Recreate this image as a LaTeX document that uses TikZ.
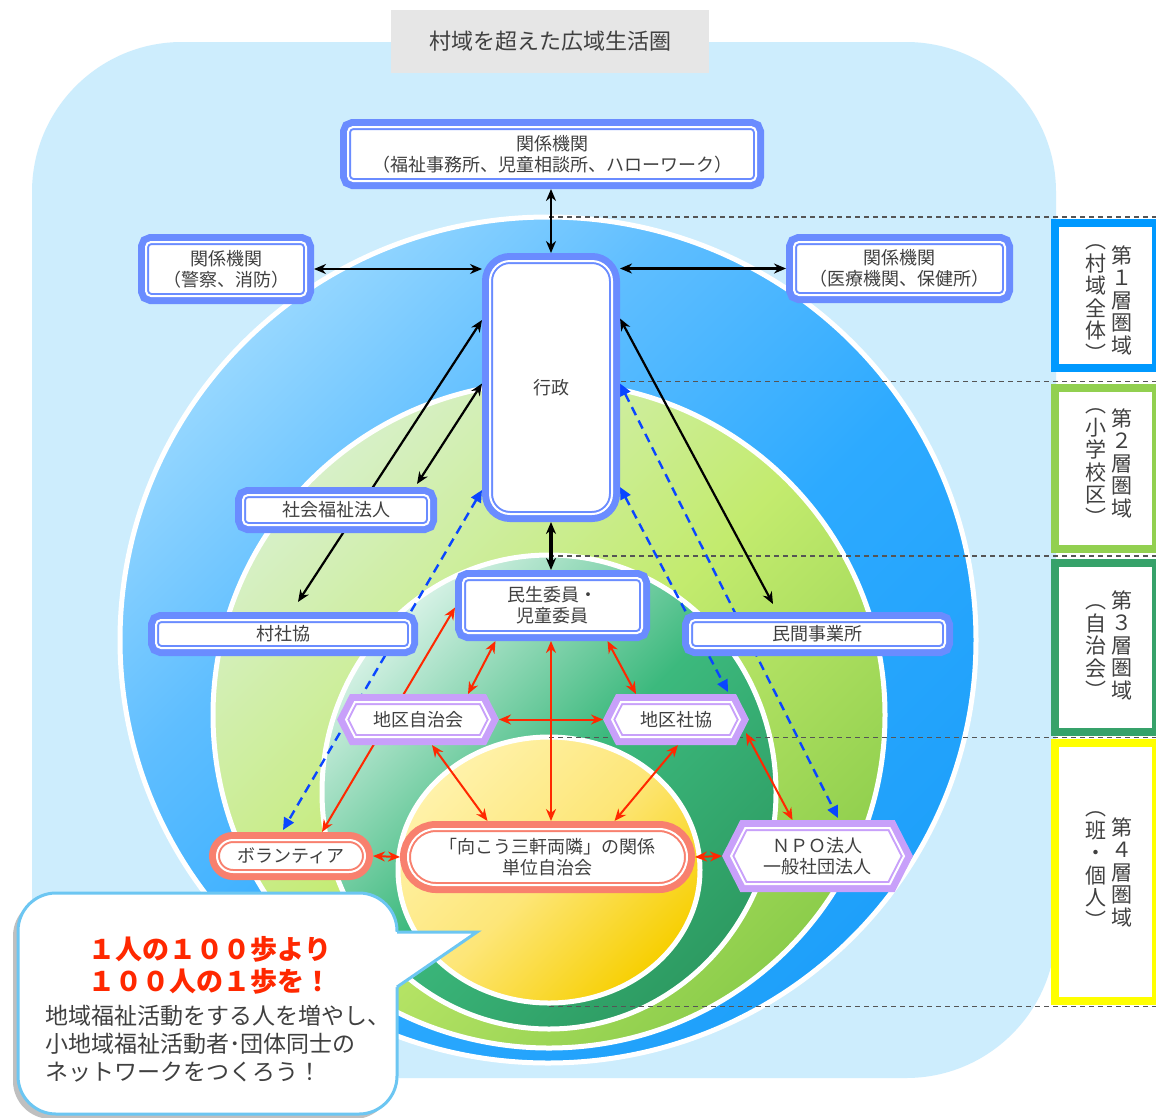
\documentclass[tikz,border=0pt]{standalone}
\usepackage{fontspec}
\setmainfont{Noto Sans CJK JP}
\usetikzlibrary{arrows.meta,shapes.misc,shapes.symbols,shadows,calc}
\pgfdeclarelayer{bg}
\pgfdeclarelayer{conn}
\pgfsetlayers{bg,conn,main}
\definecolor{skybg}{RGB}{205,237,253}
\definecolor{nodeblue}{RGB}{106,140,255}
\definecolor{salmon}{RGB}{248,128,110}
\definecolor{lav}{RGB}{200,160,250}
\definecolor{txt}{RGB}{64,64,64}
\definecolor{redarr}{RGB}{255,40,0}
\definecolor{bluearr}{RGB}{10,70,255}
\definecolor{lA}{RGB}{0,153,255}
\definecolor{lB}{RGB}{146,208,80}
\definecolor{lC}{RGB}{54,162,106}
\definecolor{lD}{RGB}{255,255,0}
\definecolor{bA}{RGB}{150,215,255}
\definecolor{bB}{RGB}{45,170,255}
\definecolor{bC}{RGB}{30,160,250}
\definecolor{bM}{RGB}{95,190,255}
\definecolor{gA}{RGB}{215,240,200}
\definecolor{gB}{RGB}{195,235,110}
\definecolor{gC}{RGB}{140,205,75}
\definecolor{dA}{RGB}{215,242,230}
\definecolor{dB}{RGB}{60,185,125}
\definecolor{dC}{RGB}{45,155,98}
\definecolor{yA}{RGB}{255,242,170}
\definecolor{yB}{RGB}{253,230,120}
\definecolor{yC}{RGB}{247,207,0}
\definecolor{titlegray}{RGB}{230,230,230}
\definecolor{bubbleblue}{RGB}{108,198,242}
\definecolor{dashgray}{RGB}{85,85,85}
\pgfdeclareverticalshading{blueS}{100bp}{color(0bp)=(bC); color(25bp)=(bC); color(45bp)=(bB); color(62bp)=(bM); color(75bp)=(bA); color(100bp)=(bA)}
\newcommand\myNodeFont{\fontsize{18}{21}\selectfont}
\tikzset{
  frm/.style={preaction={draw=#1,line width=16pt}, fill=white, draw=#1, line width=2pt,
    double=white, double distance=2pt, outer sep=8pt, inner sep=0pt, text=txt,
    font=\myNodeFont, align=center},
  bnode/.style={frm=nodeblue, rectangle, rounded corners=5pt},
  hnode/.style={frm=lav, signal, signal to=east and west, signal pointer angle=126},
  pnode/.style={frm=salmon, rounded rectangle},
  karrow/.style={draw=black, line width=2.2pt, arrows={Stealth[length=12pt,width=10pt]-Stealth[length=12pt,width=10pt]}},
  rarrow/.style={draw=redarr, line width=2pt, arrows={Stealth[length=12pt,width=10pt]-Stealth[length=12pt,width=10pt]}},
  barrow/.style={draw=bluearr, line width=2.4pt, dash pattern=on 9pt off 6pt, arrows={Triangle[length=12pt,width=11pt]-Triangle[length=12pt,width=11pt]}},
  vtext/.style={align=center, font=\fontsize{21}{22.5}\selectfont, text=txt, inner sep=0pt},
  layerbox/.style={draw=#1, line width=8pt, fill=white},
  hdash/.style={draw=dashgray, line width=1.2pt, dash pattern=on 5pt off 4pt},
  ring/.style={draw=white, line width=5pt}
}
\begin{document}
\begin{tikzpicture}[x=1pt,y=-1pt]
\useasboundingbox (0,0) rectangle (1156,1117);
\begin{pgfonlayer}{bg}
\fill[white] (0,0) rectangle (1156,1117);
\fill[skybg, rounded corners=150pt] (32,42) rectangle (1056,1078);
\path[ring, shading=blueS, shading angle=45] (548,640) ellipse [x radius=428pt, y radius=423pt];
\path[ring, top color=gA, bottom color=gC, middle color=gB, shading angle=45] (549,715) ellipse [x radius=336pt, y radius=333pt];
\path[ring, top color=dA, bottom color=dC, middle color=dB, shading angle=45] (549,792) ellipse [x radius=227pt, y radius=237pt];
\path[ring, top color=yA, bottom color=yC, middle color=yB, shading angle=45] (549,870) ellipse [x radius=151pt, y radius=133pt];
\draw[hdash] (549,217) -- (1156,217);
\draw[hdash] (549,381.5) -- (1156,381.5);
\draw[hdash] (549,556) -- (1156,556);
\draw[hdash] (549,737.5) -- (1156,737.5);
\draw[hdash] (549,1006.5) -- (1156,1006.5);
\draw[layerbox=lA] (1055,223) rectangle (1156,368);
\draw[layerbox=lB] (1055,388) rectangle (1156,549);
\draw[layerbox=lC] (1055,563) rectangle (1156,732);
\draw[layerbox=lD] (1055,743) rectangle (1156,1001);
\end{pgfonlayer}

% title
\node[fill=titlegray, minimum width=318pt, minimum height=63pt, inner sep=0pt, text=txt, font=\fontsize{22}{24}\selectfont] (title) at (550,41.5) {村域を超えた広域生活圏};

% layer labels
\node[vtext] (v1a) at (1122,300) {第\\１\\層\\圏\\域};
\node[vtext] (v1b) at (1096,303) {︵\\村\\域\\全\\体\\︶};
\node[vtext] (v2a) at (1122,463) {第\\２\\層\\圏\\域};
\node[vtext] (v2b) at (1096,467) {︵\\小\\学\\校\\区\\︶};
\node[vtext] (v3a) at (1122,645) {第\\３\\層\\圏\\域};
\node[vtext] (v3b) at (1096,652) {︵\\自\\治\\会\\︶};
\node[vtext] (v4a) at (1122,872) {第\\４\\層\\圏\\域};
\node[vtext] (v4b) at (1096,870) {︵\\班\\・\\個\\人\\︶};

% nodes
\node[bnode, minimum width=408pt, minimum height=54pt] (kt) at (552,154) {関係機関\\（福祉事務所、児童相談所、ハローワーク）};
\node[bnode, minimum width=160pt, minimum height=54pt] (kl) at (226,269) {関係機関\\（警察、消防）};
\node[bnode, minimum width=211pt, minimum height=53pt] (kr) at (899.5,268.5) {関係機関\\（医療機関、保健所）};
\node[bnode, rounded corners=20pt, minimum width=122pt, minimum height=253pt] (gy) at (551,387.5) {行政};
\node[bnode, minimum width=186pt, minimum height=30pt] (sf) at (336,510) {社会福祉法人};
\node[bnode, minimum width=254pt, minimum height=28pt] (ss) at (283,634) {村社協};
\node[bnode, minimum width=255pt, minimum height=28pt] (mj) at (817.5,634) {民間事業所};
\node[bnode, minimum width=179pt, minimum height=55pt] (ms) at (552.5,605.5) {民生委員・\\児童委員};
\node[hnode, minimum width=144pt, minimum height=35pt] (cj) at (418,719.5) {地区自治会};
\node[hnode, minimum width=128pt, minimum height=35pt] (cs) at (676,719.5) {地区社協};
\node[pnode, minimum width=148pt, minimum height=32pt] (vo) at (291,856) {ボランティア};
\node[pnode, minimum width=279pt, minimum height=56pt] (mk) at (547.5,857) {「向こう三軒両隣」の関係\\単位自治会};
\node[hnode, minimum width=173pt, minimum height=56pt] (np) at (817.5,856) {ＮＰＯ法人\\一般社団法人};

\begin{pgfonlayer}{conn}
\draw[karrow] (gy.north) -- (gy.north |- kt.south);
\draw[karrow] (kl.east) -- (gy.west |- kl.east);
\draw[karrow] (gy.east |- kr.west) -- (kr.west);
\draw[karrow] ([yshift=67.5pt]gy.west) -- ([xshift=15pt,yshift=10pt]ss.north);
\draw[karrow] ([yshift=4pt]gy.west) -- ([xshift=-20pt,yshift=3pt]sf.north east);
\draw[karrow] ([yshift=69pt]gy.east) -- ([xshift=-44.5pt,yshift=8pt]mj.north);
\draw[karrow, line width=3.2pt] (gy.south) -- (gy.south |- ms.north);
\draw[barrow] ([yshift=-102.5pt]gy.west) -- ([xshift=-8pt,yshift=2pt]vo.north);
\draw[barrow] ([yshift=4pt]gy.east) -- ([xshift=20.5pt,yshift=2pt]np.north);
\draw[barrow] ([yshift=-99.5pt]gy.east) -- ([xshift=52pt,yshift=2pt]cs.north);
\draw[rarrow] ([xshift=31pt]vo.north) -- ([yshift=-2pt]ms.west);
\draw[rarrow] ([xshift=-57pt]ms.south) -- ([xshift=50pt]cj.north);
\draw[rarrow] ([xshift=-1.5pt]ms.south) -- ([xshift=-1.5pt]ms.south |- mk.north);
\draw[rarrow] ([xshift=55pt]ms.south) -- ([xshift=-40pt]cs.north);
\draw[rarrow] (cj.east) -- (cs.west);
\draw[rarrow] ([xshift=14pt]cj.south) -- ([xshift=-60pt]mk.north);
\draw[rarrow] ([xshift=2pt]cs.south) -- ([xshift=67pt]mk.north);
\draw[rarrow] ([xshift=-3pt,yshift=-13.5pt]cs.east) -- ([xshift=-25pt]np.north);
\draw[rarrow] (vo.east) -- (mk.west);
\draw[rarrow] (mk.east) -- (np.west);
\end{pgfonlayer}

% speech bubble
\draw[draw=bubbleblue, line width=3pt, fill=white, rounded corners=38pt,
  drop shadow={shadow xshift=-5pt, shadow yshift=-5pt, opacity=0.25, fill=black}]
  (18,893) rectangle (397,1114);
\fill[white] (394,932) -- (477,932) -- (399,987) -- (394,987) -- cycle;
\draw[draw=bubbleblue, line width=3pt, line join=miter] (397,932) -- (477,932) -- (397,987);
\node[text=redarr, font=\fontsize{27}{32}\selectfont\bfseries, inner sep=0pt] (slogan1) at (210,949) {１人の１００歩より};
\node[text=redarr, font=\fontsize{27}{32}\selectfont\bfseries, inner sep=0pt] (slogan2) at (210,981) {１００人の１歩を！};
\node[anchor=west, text=txt, font=\fontsize{23}{24}\selectfont, inner sep=0pt] (msg1) at (45,1016) {地域福祉活動をする人を増やし、};
\node[anchor=west, text=txt, font=\fontsize{23}{24}\selectfont, inner sep=0pt] (msg2) at (45,1044) {小地域福祉活動者･団体同士の};
\node[anchor=west, text=txt, font=\fontsize{23}{24}\selectfont, inner sep=0pt] (msg3) at (45,1072) {ネットワークをつくろう！};
\end{tikzpicture}
\end{document}
